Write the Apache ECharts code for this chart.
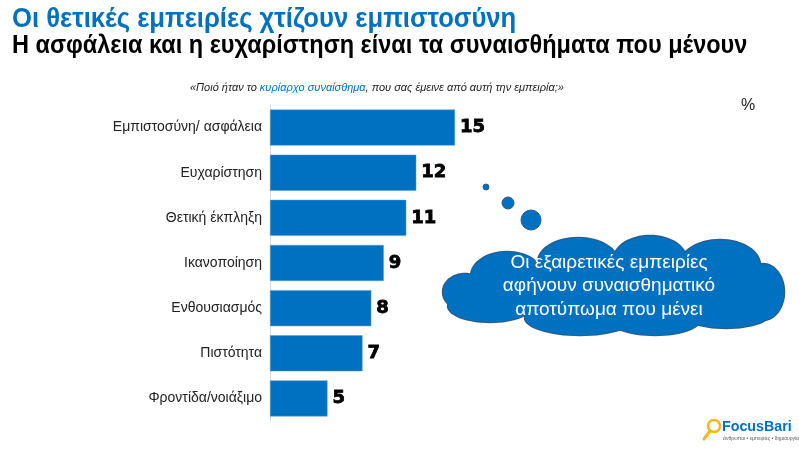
<!DOCTYPE html>
<html>
<head>
<meta charset="utf-8">
<script src="https://cdn.jsdelivr.net/npm/echarts@6/dist/echarts.min.js"></script>
<style>
  html, body { margin: 0; padding: 0; background: #fff; }
  #chart { width: 799px; height: 449px; }
</style>
</head>
<body>
<div id="chart"></div>
<script>
// κατηγορίες (από πάνω προς τα κάτω)
const categories = ['Εμπιστοσύνη/ ασφάλεια', 'Ευχαρίστηση', 'Θετική έκπληξη', 'Ικανοποίηση', 'Ενθουσιασμός', 'Πιστότητα', 'Φροντίδα/νοιάξιμο'];
// μήκη ράβδων όπως φαίνονται στην εικόνα (οι ετικέτες είναι στρογγυλεμένες)
const values = [14.8, 11.7, 10.9, 9.1, 8.1, 7.4, 4.6];

const BLUE = '#0070C0';
const EDGE = '#2B5C8A';
const FONT = '"Liberation Sans", Arial, sans-serif';

// σύννεφο: ελλείψεις [cx, cy, rx, ry]
const cloudParts = [
  [613, 290, 158, 30],
  [465, 292, 22, 18],
  [507, 276, 36, 24],
  [578, 262, 40, 24],
  [650, 259, 36, 23],
  [720, 265, 40, 25],
  [763, 292, 21, 28],
  [490, 306, 42, 16],
  [580, 318, 55, 17],
  [655, 320, 45, 15],
  [726, 312, 46, 16]
];
const bubbles = [[486, 187, 3], [508, 203, 6], [531, 220, 10]];

const cloudLines = ['Οι εξαιρετικές εμπειρίες', 'αφήνουν συναισθηματικό', 'αποτύπωμα που μένει'];

const chart = echarts.init(document.getElementById('chart'), null, { renderer: 'canvas' });

const graphic = [];
// περίγραμμα σύννεφου
cloudParts.forEach(p => graphic.push({
  type: 'ellipse', z: 10,
  shape: { cx: p[0], cy: p[1], rx: p[2] + 1.2, ry: p[3] + 1.2 },
  style: { fill: EDGE }
}));
cloudParts.forEach(p => graphic.push({
  type: 'ellipse', z: 11,
  shape: { cx: p[0], cy: p[1], rx: p[2], ry: p[3] },
  style: { fill: BLUE }
}));
bubbles.forEach(b => graphic.push({
  type: 'circle', z: 11,
  shape: { cx: b[0], cy: b[1], r: b[2] },
  style: { fill: BLUE, stroke: EDGE, lineWidth: 1 }
}));
graphic.push({
  type: 'text', z: 12, x: 609, y: 286,
  style: {
    text: cloudLines.join('\n'),
    fill: '#fff', font: '19px ' + FONT,
    align: 'center', verticalAlign: 'middle', lineHeight: 23.5
  }
});
// τίτλοι (στενή γραμματοσειρά με scaleX)
graphic.push({
  type: 'text', x: 12, y: 6, scaleX: 0.95,
  style: { text: 'Οι θετικές εμπειρίες χτίζουν εμπιστοσύνη', fill: BLUE, font: 'bold 27px ' + FONT }
});
graphic.push({
  type: 'text', x: 12, y: 34, scaleX: 0.94,
  style: { text: 'Η ασφάλεια και η ευχαρίστηση είναι τα συναισθήματα που μένουν', fill: '#000', font: 'bold 25px ' + FONT }
});
// ερώτηση
graphic.push({
  type: 'text', x: 190, y: 82,
  style: {
    rich: {
      n: { fill: '#222', fontSize: 11, fontStyle: 'italic', fontFamily: FONT },
      b: { fill: BLUE, fontSize: 11, fontStyle: 'italic', fontFamily: FONT }
    },
    text: '{n|«Ποιό ήταν το }{b|κυρίαρχο συναίσθημα}{n|, που σας έμεινε από αυτή την εμπειρία;»}'
  }
});
graphic.push({
  type: 'text', x: 741, y: 98,
  style: { text: '%', fill: '#222', font: '16px ' + FONT }
});
// λογότυπο
graphic.push({
  type: 'circle', shape: { cx: 714, cy: 426, r: 6 },
  style: { fill: 'none', stroke: '#F5B622', lineWidth: 2.5 }
});
graphic.push({
  type: 'line', shape: { x1: 710, y1: 431, x2: 704, y2: 439 },
  style: { stroke: '#F5B622', lineWidth: 3, lineCap: 'round' }
});
graphic.push({
  type: 'text', x: 722, y: 419, scaleX: 0.95,
  style: { text: 'FocusBari', fill: BLUE, font: 'bold 15px ' + FONT }
});
graphic.push({
  type: 'text', x: 723, y: 436,
  style: { text: 'άνθρωποι • εμπειρίες • δημιουργία', fill: '#555', font: '5px ' + FONT }
});

chart.setOption({
  backgroundColor: '#fff',
  animation: false,
  grid: { left: 270, right: 29, top: 105, bottom: 28, containLabel: false },
  xAxis: {
    type: 'value', min: 0, max: 40,
    show: false
  },
  yAxis: {
    type: 'category',
    data: categories,
    inverse: true,
    axisLine: { show: true, lineStyle: { color: '#D9D9D9', width: 1 } },
    axisTick: { show: false },
    axisLabel: { color: '#222', fontSize: 14, margin: 8, fontFamily: FONT }
  },
  series: [{
    type: 'bar',
    data: values,
    barWidth: 36,
    itemStyle: { color: BLUE, borderColor: '#5B9BD5', borderWidth: 0.5 },
    label: {
      show: true, position: 'right', distance: 5,
      formatter: p => Math.round(p.value),
      color: '#000', fontSize: 18, fontWeight: 'bold',
      textBorderColor: '#000', textBorderWidth: 0.8,
      fontFamily: '"DejaVu Sans", Arial'
    }
  }],
  graphic: graphic
});
</script>
</body>
</html>
